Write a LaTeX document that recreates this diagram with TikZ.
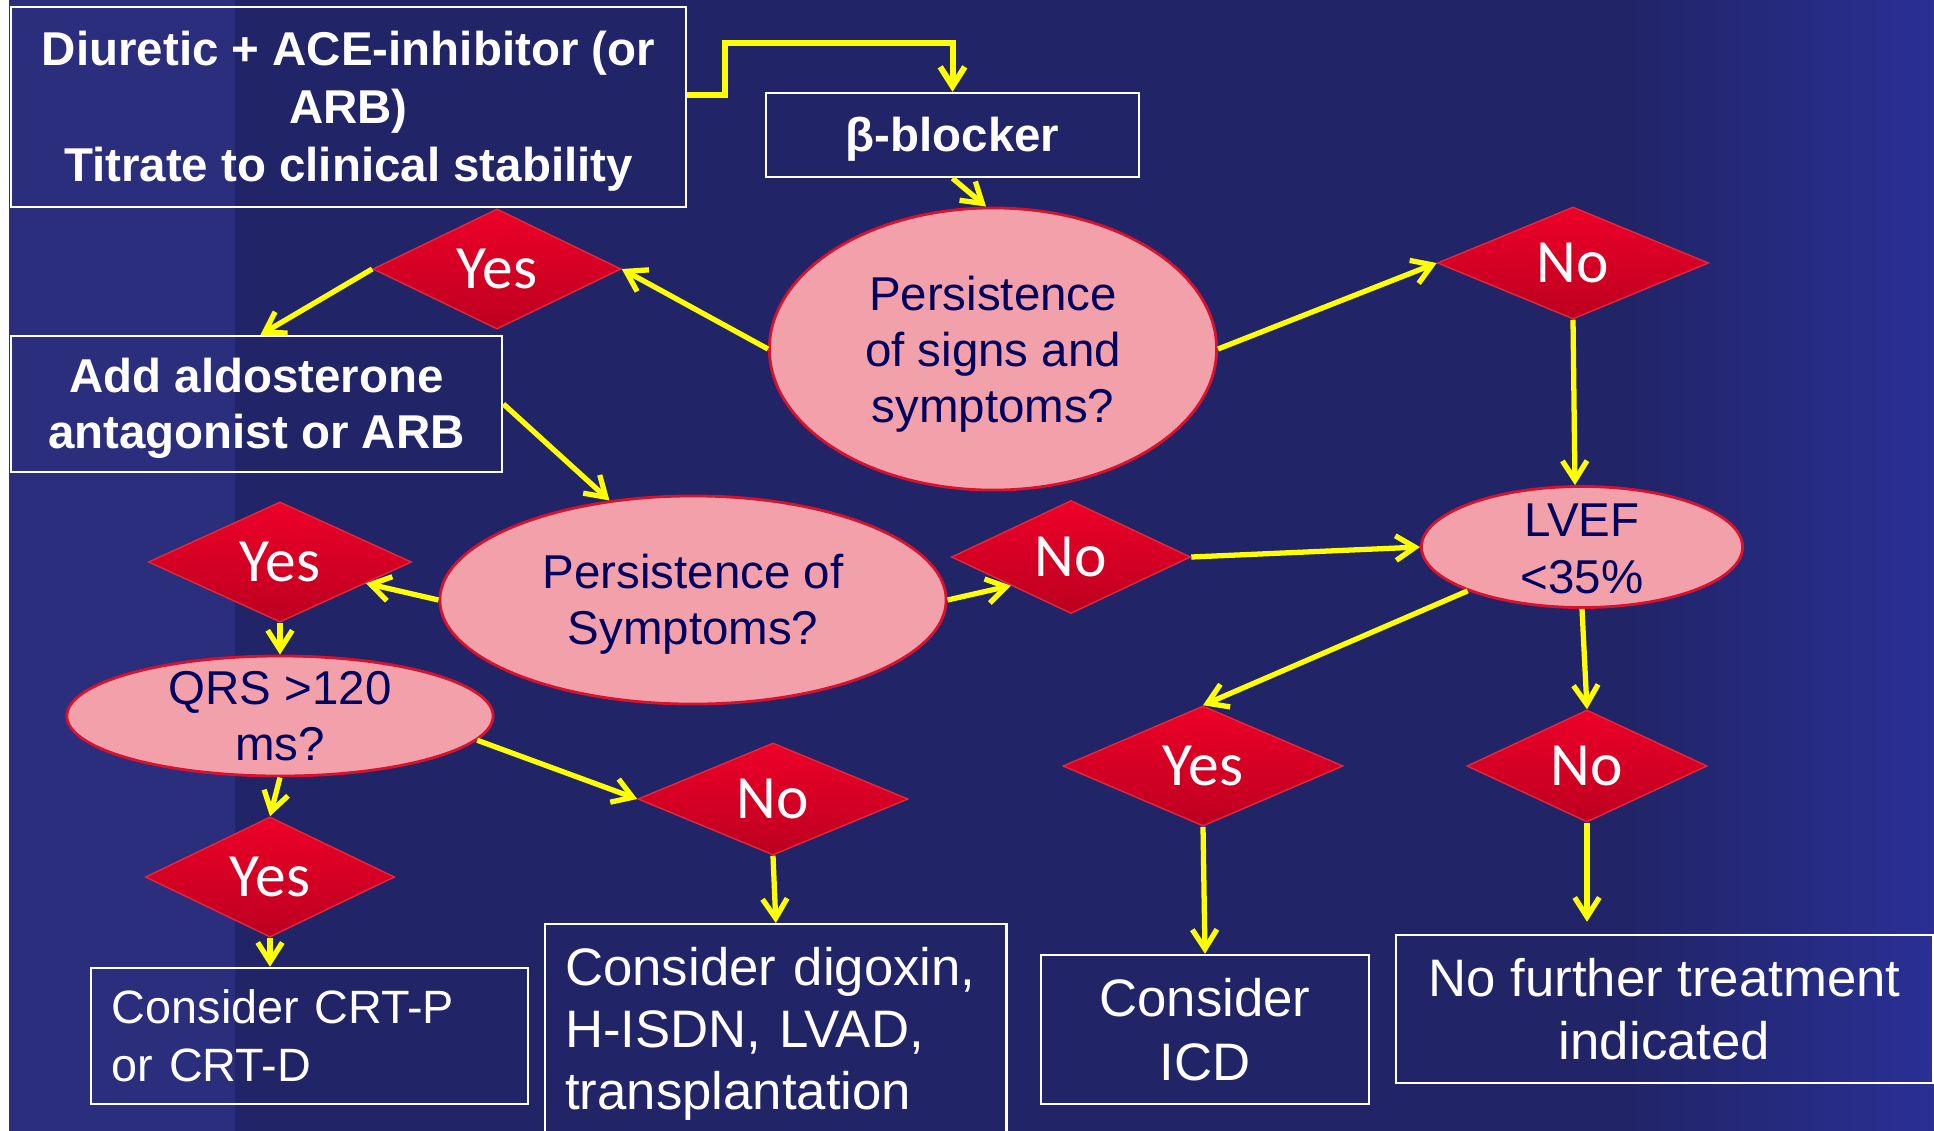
\documentclass[tikz,border=0pt]{standalone}
\usepackage{fontspec}
\setmainfont{Liberation Sans}
\newfontfamily\calib{Carlito}
\usetikzlibrary{shapes.geometric,arrows.meta,calc}
\definecolor{bgnavy}{RGB}{33,36,102}
\definecolor{bgleft}{RGB}{42,46,124}
\definecolor{bgright}{RGB}{42,48,150}
\definecolor{pinkfill}{RGB}{242,160,170}
\definecolor{ellborder}{RGB}{214,18,46}
\definecolor{elltext}{RGB}{0,0,96}
\definecolor{dtop}{RGB}{238,0,40}
\definecolor{dbot}{RGB}{188,0,32}
\definecolor{dborder}{RGB}{226,40,60}
\definecolor{arrowyellow}{RGB}{255,255,0}
\tikzset{
  box/.style={draw=white, line width=0.7pt, text=white, inner sep=0pt, align=center},
  boxtxt/.style={text=white, inner sep=0pt, align=center},
  ell/.style={ellipse, draw=ellborder, line width=0.8pt, fill=pinkfill, inner sep=0pt},
  elltxt/.style={text=elltext, inner sep=0pt, align=center, font=\fontsize{13.5}{16}\selectfont},
  dia/.style={diamond, draw=dborder, line width=0.4pt, top color=dtop, bottom color=dbot,
    text=white, inner sep=0pt, font=\calib\fontsize{17.5}{20}\selectfont},
  arr/.style={draw=arrowyellow, line width=1.5pt, -{Straight Barb[length=5.5pt,width=7pt]}}
}
\begin{document}
\begin{tikzpicture}[x=0.01cm,y=-0.01cm]
\useasboundingbox (0,0) rectangle (1934,1130);
% background
\fill[bgnavy] (-10,-10) rectangle (1944,1140);
\fill[bgleft] (9,-10) rectangle (235,1140);
\shade[left color=bgnavy, right color=bgright] (1620,-10) rectangle (1944,1140);
\fill[white] (-10,-10) rectangle (9,1140);

% boxes
\node[box, minimum width=6.75cm, minimum height=2.0cm] (box1) at (348.5,107) {};
\node[boxtxt, font=\bfseries\fontsize{13.5}{16.5}\selectfont] (box1t) at ([yshift=-0.04cm]box1.center)
  {Diuretic + ACE-inhibitor (or\\ARB)\\Titrate to clinical stability};
\node[box, minimum width=3.73cm, minimum height=0.84cm] (beta) at (952.5,135) {};
\node[boxtxt, font=\bfseries\fontsize{13.5}{16}\selectfont] (betat) at ([yshift=-0.04cm]beta.center) {β-blocker};
\node[box, minimum width=4.91cm, minimum height=1.36cm] (add) at (256.5,404) {};
\node[boxtxt, font=\bfseries\fontsize{13.5}{16}\selectfont] (addt) at ([yshift=-0.04cm]add.center)
  {Add aldosterone\\antagonist or ARB};
\node[box, align=left, text width=3.95cm, inner xsep=0.21cm, minimum height=1.36cm,
  font=\fontsize{13.3}{16.4}\selectfont] (crt) at (309.5,1036)
  {Consider CRT-P\\or CRT-D};
\node[box, align=left, anchor=north west, text width=4.21cm, inner xsep=0.2cm, inner ysep=0.23cm,
  font=\fontsize{15}{17.6}\selectfont] (dig) at (544,923)
  {Consider digoxin,\\H-ISDN, LVAD,\\transplantation};
\node[box, minimum width=3.28cm, minimum height=1.49cm,
  font=\fontsize{15}{18}\selectfont] (icd) at (1205,1029.5) {Consider\\ICD};
\node[box, minimum width=5.37cm, minimum height=1.48cm,
  font=\fontsize{15}{18}\selectfont] (nf) at (1664.5,1009) {No further treatment\\indicated};

% ellipses
\node[ell, minimum width=4.47cm, minimum height=2.82cm] (e1) at (993,349) {};
\node[elltxt] (e1t) at ([yshift=-0.05cm]e1.center) {Persistence\\of signs and\\symptoms?};
\node[ell, minimum width=5.06cm, minimum height=2.08cm] (e2) at (693,600) {};
\node[elltxt] (e2t) at ([yshift=-0.04cm]e2.center) {Persistence of\\Symptoms?};
\node[ell, minimum width=3.21cm, minimum height=1.21cm] (lvef) at (1582,547) {};
\node[elltxt] (lveft) at ([yshift=-0.02cm]lvef.center) {LVEF\\<35\%};
\node[ell, minimum width=4.26cm, minimum height=1.20cm] (qrs) at (280,716) {};
\node[elltxt] (qrst) at (qrs.center) {QRS >120\\ms?};

% diamonds
\node[dia, minimum width=2.48cm, minimum height=1.13cm] (yes1) at (497,269) {Yes};
\node[dia, minimum width=2.71cm, minimum height=1.12cm] (no1) at (1573,263) {No};
\node[dia, minimum width=2.39cm, minimum height=1.13cm] (no2) at (1071,557) {No};
\node[dia, minimum width=2.63cm, minimum height=1.11cm] (yes2) at (280,562) {Yes};
\node[dia, minimum width=2.49cm, minimum height=1.11cm] (yes3) at (270,877) {Yes};
\node[dia, minimum width=2.70cm, minimum height=1.12cm] (no3) at (773,799) {No};
\node[dia, minimum width=2.80cm, minimum height=1.11cm] (yes4) at (1203,766) {Yes};
\node[dia, minimum width=2.40cm, minimum height=1.11cm] (no4) at (1587,766) {No};

% connectors
\draw[arr, line width=1.7pt] ([yshift=0.12cm]box1.east) -- ++(38,0) |- ($(beta.north)+(0,-49)$) -- (beta.north);
\draw[arr] (beta.south) -- ([xshift=-0.07cm]e1.north);
\draw[arr] (e1.west) -- (yes1.east);
\draw[arr] (yes1.west) -- ([xshift=0.04cm]add.north);
\draw[arr] (add.east) -- (e2.130);
\draw[arr] (e1.east) -- (no1.west);
\draw[arr] (no1.south) -- ([xshift=-0.07cm]lvef.north);
\draw[arr] (e2.east) -- (no2.south west);
\draw[arr] (no2.east) -- (lvef.west);
\draw[arr] (e2.west) -- ($(yes2.east)!0.35!(yes2.south)$);
\draw[arr] (yes2.south) -- (qrs.north);
\draw[arr] (qrs.south) -- (yes3.north);
\draw[arr] (yes3.south) -- (crt.north -| yes3.south);
\draw[arr] (qrs.-7) -- (no3.west);
\draw[arr] (no3.south) -- (dig.north);
\draw[arr] (lvef.201) -- (yes4.north);
\draw[arr] (lvef.south) -- (no4.north);
\draw[arr] (yes4.south) -- (icd.north);
\draw[arr, shorten >=0.12cm] (no4.south) -- (no4.south |- nf.north);
\end{tikzpicture}
\end{document}
